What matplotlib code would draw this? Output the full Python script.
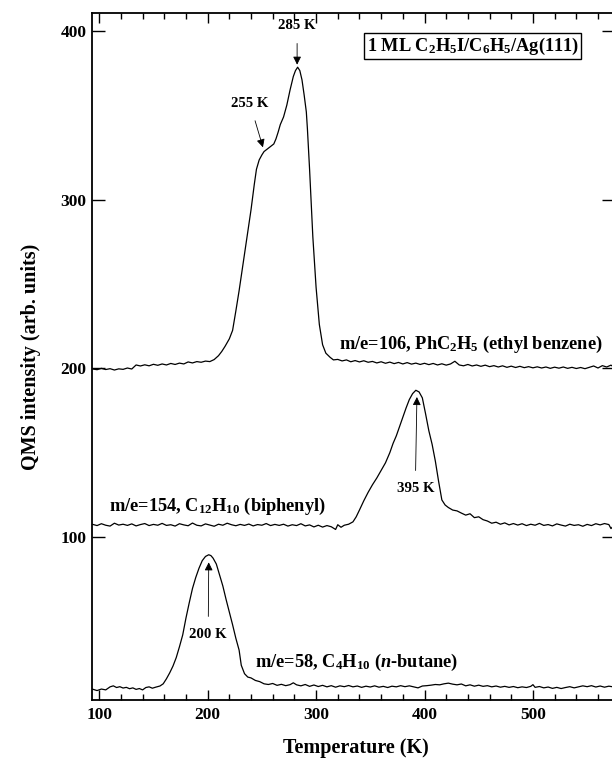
# coding: utf-8

"""
TPD spectra of 1 ML C2H5I/C6H5 on Ag(111).
"""

import numpy as np
import matplotlib
matplotlib.use('Agg')
import matplotlib.pyplot as plt
from matplotlib.ticker import MultipleLocator


# ethyl benzene, m/e=106
ethyl_temps = [
    94, 98, 102, 106, 110, 114, 118, 122, 126, 130, 134, 138, 142, 146, 150,
    154, 158, 162, 166, 170, 174, 178, 182, 186, 190, 194, 198, 202, 206, 210,
    213, 216, 220, 223, 226, 229, 232, 236, 240, 243, 245, 247.5, 250, 252,
    255, 258, 261, 263, 265, 267, 270, 273, 276, 279, 281, 283, 285, 287, 289,
    291, 292, 294, 297, 300, 303, 306, 309, 313, 316, 320, 324, 328, 332, 336,
    340, 344, 348, 352, 356, 360, 364, 368, 372, 376, 380, 384, 388, 392, 396,
    400, 404, 408, 412, 416, 420, 424, 428, 432, 436, 440, 444, 448, 452, 456,
    460, 464, 468, 472, 476, 480, 484, 488, 492, 496, 500, 504, 508, 512, 516,
    520, 524, 528, 532, 536, 540, 544, 548, 552, 556, 560, 564, 568, 572, 574]
ethyl_values = [
    199.6, 199.2, 200.0, 199.3, 199.8, 199.0, 199.7, 199.4, 200.2, 199.6,
    202.0, 201.4, 202.1, 201.5, 202.4, 201.8, 202.6, 202.0, 202.9, 202.3,
    203.1, 202.6, 203.8, 203.2, 204.0, 203.6, 204.3, 204.0, 205.2, 207.5,
    210.0, 213.0, 217.5, 222.5, 234.0, 246.0, 259.0, 276.0, 294.0, 309.0,
    318.0, 323.5, 326.5, 328.5, 330.0, 331.5, 333.0, 336.0, 340.0, 344.5,
    349.0, 356.0, 365.0, 373.0, 376.5, 378.5, 376.5, 371.0, 362.0, 352.0,
    342.0, 318.0, 278.0, 248.0, 226.0, 214.0, 209.0, 206.5, 205.0, 205.3,
    204.4, 205.0, 203.9, 204.6, 203.8, 204.5, 203.6, 204.1, 203.2, 203.9,
    203.0, 203.7, 202.8, 203.5, 202.6, 203.4, 202.5, 203.1, 202.3, 203.0,
    202.2, 202.9, 202.0, 202.7, 201.9, 202.6, 204.2, 202.0, 201.5, 202.3,
    201.4, 202.0, 201.2, 201.9, 201.0, 201.6, 200.8, 201.5, 200.6, 201.3,
    200.5, 201.2, 200.4, 201.0, 200.3, 200.9, 200.2, 200.8, 200.0, 200.7,
    200.1, 200.8, 200.0, 200.6, 199.9, 200.5, 199.8, 200.6, 201.4, 200.2,
    201.6, 200.8, 201.9, 201.0]

# biphenyl, m/e=154
biphenyl_temps = [
    94, 98, 102, 106, 110, 114, 118, 122, 126, 130, 134, 138, 142, 146, 150,
    154, 158, 162, 166, 170, 174, 178, 182, 186, 190, 194, 198, 202, 206, 210,
    214, 218, 222, 226, 230, 234, 238, 242, 246, 250, 254, 258, 262, 266, 270,
    274, 278, 282, 286, 290, 294, 298, 302, 306, 310, 314, 318, 320, 323, 326,
    330, 334, 337, 340, 344, 348, 352, 356, 360, 364, 368, 371, 374, 377, 380,
    383, 386, 389, 392, 395, 398, 401, 404, 407, 410, 413, 416, 419, 422, 426,
    430, 434, 438, 442, 446, 450, 454, 458, 462, 466, 470, 474, 478, 482, 486,
    490, 494, 498, 502, 506, 510, 514, 518, 522, 526, 530, 534, 538, 542, 546,
    550, 554, 558, 562, 566, 570, 572, 574]
biphenyl_values = [
    107.5, 106.8, 107.9, 107.0, 106.5, 108.2, 107.1, 107.6, 106.9, 107.8,
    106.6, 107.4, 108.0, 106.8, 107.5, 107.0, 108.1, 106.9, 107.3, 106.5,
    107.9, 107.2, 106.7, 108.3, 107.0, 106.6, 107.8, 107.1, 106.4, 107.6,
    107.0, 108.2, 107.3, 106.7, 107.5, 106.9, 107.7, 106.6, 107.4, 107.0,
    108.0, 106.8, 107.5, 106.9, 107.6, 106.5, 107.3, 106.8, 107.9, 106.6,
    107.2, 106.0, 107.0, 105.9, 106.8, 106.1, 104.5, 107.3, 105.8, 107.0,
    107.6, 109.0, 112.0, 116.0, 121.5, 126.5, 131.0, 135.0, 139.5, 144.0,
    150.0, 155.5, 160.0, 165.5, 171.0, 176.5, 181.5, 185.0, 187.0, 186.0,
    182.5, 173.0, 163.0, 155.0, 145.0, 133.0, 122.0, 119.0, 117.5, 116.0,
    115.5, 114.2, 113.0, 113.8, 111.5, 112.0, 110.3, 109.5, 108.2, 108.8,
    107.6, 108.4, 107.2, 108.0, 107.1, 107.9, 106.8, 107.6, 107.0, 108.1,
    106.9, 107.4, 106.6, 107.8, 107.1, 106.5, 107.6, 106.9, 107.3, 106.4,
    107.5, 106.8, 107.9, 107.2, 108.0, 107.4, 105.0, 106.5]

# n-butane, m/e=58
butane_temps = [
    94, 98, 102, 106, 110, 113, 116, 119, 122, 125, 128, 131, 134, 137, 140,
    143, 146, 149, 152, 156, 159, 162, 165, 168, 171, 174, 177, 180, 183, 186,
    189, 192, 195, 198, 201, 203, 205, 208, 211, 214, 217, 220, 223, 226, 229,
    231, 234, 237, 240, 244, 248, 252, 256, 260, 264, 268, 272, 276, 279, 282,
    286, 290, 294, 298, 302, 306, 310, 314, 318, 322, 326, 330, 334, 338, 342,
    346, 350, 354, 358, 362, 366, 370, 374, 378, 382, 386, 390, 394, 398, 402,
    406, 410, 414, 418, 422, 426, 430, 434, 438, 442, 446, 450, 454, 458, 462,
    466, 470, 474, 478, 482, 486, 490, 494, 498, 500, 502, 506, 510, 514, 518,
    522, 526, 530, 534, 538, 542, 546, 550, 554, 558, 562, 566, 570, 574]
butane_values = [
    9.8, 9.0, 9.9, 9.4, 11.2, 11.8, 10.8, 11.3, 10.5, 10.9, 10.1, 10.6, 9.7,
    10.2, 9.4, 10.8, 11.2, 10.4, 11.0, 11.7, 13.0, 16.0, 19.5, 23.5, 28.5,
    35.0, 42.0, 52.0, 61.0, 69.5, 76.0, 81.5, 86.0, 88.5, 89.5, 89.0, 87.5,
    84.0, 77.5, 71.0, 63.0, 55.5, 48.0, 40.0, 33.0, 24.0, 19.0, 17.0, 16.5,
    15.0, 14.3, 13.0, 12.6, 13.2, 12.1, 12.7, 11.9, 12.5, 13.6, 12.4, 11.8,
    12.6, 11.5, 12.3, 11.4, 12.1, 11.2, 11.9, 11.0, 11.8, 11.3, 12.0, 11.2,
    11.7, 10.9, 11.6, 11.1, 11.8, 11.0, 11.5, 10.8, 11.6, 11.2, 11.9, 11.3,
    11.8, 11.2, 10.6, 11.7, 11.9, 12.2, 12.6, 12.4, 13.0, 13.4, 12.8, 12.4,
    12.9, 11.8, 12.4, 11.6, 12.2, 11.5, 11.9, 11.2, 11.7, 11.0, 11.5, 10.9,
    11.4, 10.7, 11.2, 10.8, 11.5, 12.5, 10.9, 11.4, 10.6, 11.1, 10.3, 10.9,
    10.2, 10.8, 11.3, 10.6, 11.2, 11.8, 11.3, 11.9, 11.1, 11.7, 11.0, 11.6,
    11.2]

# (label, text position, ha)
series_labels = [
    ('m/e=106, PhC$_2$H$_5$ (ethyl benzene)', (564, 214), 'right'),
    ('m/e=154, C$_{12}$H$_{10}$ (biphenyl)', (109, 118), 'left'),
    ('m/e=58, C$_4$H$_{10}$ ($\\mathit{n}$-butane)', (244, 25.5), 'left'),
]

# (text, arrow tip, text position)
peak_marks = [
    ('285 K', (282.5, 380), (282.5, 403)),
    ('255 K', (251, 331), (239, 357)),
    ('395 K', (393, 183), (391.5, 129)),
    ('200 K', (201, 85), (200.5, 42.5)),
]

x_ticks = [100, 200, 300, 400, 500]
y_ticks = [100, 200, 300, 400]


def setup_fonts():
    """
    """
    plt.rcParams['font.family'] = ['Liberation Serif', 'DejaVu Serif']
    plt.rcParams['font.weight'] = 'bold'
    plt.rcParams['mathtext.fontset'] = 'custom'
    plt.rcParams['mathtext.rm'] = 'Liberation Serif:bold'
    plt.rcParams['mathtext.it'] = 'Liberation Serif:italic'
    plt.rcParams['mathtext.bf'] = 'Liberation Serif:bold'
    plt.rcParams['mathtext.default'] = 'regular'


def plot_tpd():
    """
    Draws the three TPD traces with their annotations.
    """
    setup_fonts()

    fig = plt.figure(figsize=(6.12, 7.58), dpi=100)
    ax = fig.add_axes([0.1508, 0.0765, 0.852, 0.9065])

    for temps, values in [(ethyl_temps, ethyl_values),
                          (biphenyl_temps, biphenyl_values),
                          (butane_temps, butane_values)]:
        ax.plot(np.array(temps), np.array(values), color='black', lw=0.9)

    ax.set_xlim(93.6, 574.5)
    ax.set_ylim(3.4, 410.7)

    ax.set_xticks(x_ticks)
    ax.xaxis.set_minor_locator(MultipleLocator(20))
    ax.set_yticks(y_ticks)
    ax.tick_params(which='both', direction='in', top=True, right=True,
                   width=1.0, labelsize=12.5)
    ax.tick_params(axis='x', which='major', length=7, pad=5)
    ax.tick_params(axis='x', which='minor', length=4)
    ax.tick_params(axis='y', which='major', length=9, pad=4)
    for lab in ax.get_xticklabels() + ax.get_yticklabels():
        lab.set_fontweight('bold')
    for spine in ax.spines.values():
        spine.set_linewidth(1.3)

    ax.set_xlabel('Temperature (K)', fontsize=14.5, fontweight='bold')
    ax.xaxis.set_label_coords(0.506, -0.056)
    ax.set_ylabel('QMS intensity (arb. units)', fontsize=14.5,
                  fontweight='bold')
    ax.yaxis.set_label_coords(-0.098, 0.50)

    for text, pos, ha in series_labels:
        ax.text(pos[0], pos[1], text, ha=ha, va='center', fontsize=13.2,
                fontweight='bold')

    for text, tip, pos in peak_marks:
        ax.annotate(text, xy=tip, xytext=pos, ha='center', va='center',
                    fontsize=10.7, fontweight='bold',
                    arrowprops=dict(arrowstyle='-|>', color='black',
                                    lw=0.6, mutation_scale=12,
                                    shrinkA=6, shrinkB=0))

    ax.text(444.5, 391, '1 ML C$_2$H$_5$I/C$_6$H$_5$/Ag(111)', ha='center',
            va='center', fontsize=13.2, fontweight='bold',
            bbox=dict(boxstyle='square,pad=0.12', fc='white', ec='black',
                      lw=1.0))

    fig.savefig('out.png', dpi=100)


if __name__ == '__main__':
    plot_tpd()
